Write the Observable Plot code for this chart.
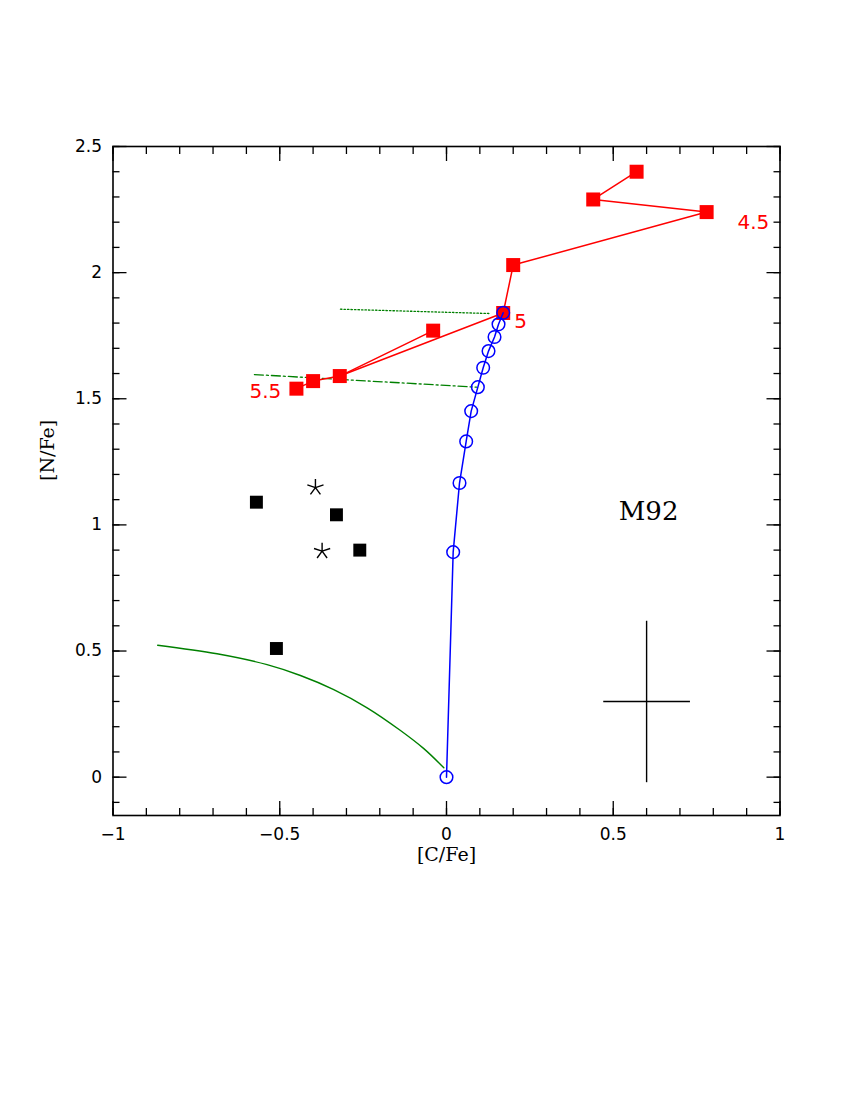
<!DOCTYPE html>
<html><head><meta charset="utf-8">
<script src="https://cdn.jsdelivr.net/npm/d3@7"></script>
<script src="https://cdn.jsdelivr.net/npm/@observablehq/plot@0.6"></script>
<style>body{margin:0;background:#fff} svg{display:block}</style>
</head><body><div id="chart"></div>
<script>
// Model sequence (red squares) [C/Fe], [N/Fe]
const modelC = [0.57, 0.44, 0.78, 0.20, 0.17, -0.04, -0.32, -0.40, -0.45];
const modelN = [2.40, 2.29, 2.24, 2.03, 1.84, 1.77, 1.59, 1.57, 1.54];
const modelPaths = [[0, 1, 2, 3, 4, 6, 7, 8], [5, 6]];
const massLabels = ["4.5", "5", "5.5"];
const massLabelC = [0.92, 0.222, -0.543];
const massLabelN = [2.20, 1.804, 1.527];

// Mixing track (blue open circles)
const mixC = [0, 0.020, 0.039, 0.059, 0.074, 0.094, 0.110, 0.126, 0.144, 0.156, 0.170];
const mixN = [0, 0.892, 1.166, 1.331, 1.451, 1.546, 1.623, 1.689, 1.745, 1.795, 1.841];

// Observed stars (black squares, asterisks)
const obsC = [-0.57, -0.33, -0.26, -0.51];
const obsN = [1.09, 1.04, 0.90, 0.51];
const starC = [-0.393, -0.373];
const starN = [1.148, 0.896];

// Green curves
const curveC = [-0.866, -0.688, -0.538, -0.438, -0.338, -0.238, -0.138, -0.068, -0.008];
const curveN = [0.523, 0.489, 0.446, 0.403, 0.347, 0.275, 0.185, 0.113, 0.037];
const dotC = [-0.318, 0.127];
const dotN = [1.855, 1.838];
const dashDotC = [-0.576, 0.090];
const dashDotN = [1.596, 1.546];

// Typical error bar
const errC = [0.60], errN = [0.30], errDC = [0.13], errDN = [0.32];

// Ticks
const xMajor = [-1, -0.5, 0, 0.5, 1];
const xMinor = d3.range(-10, 11).map(i => i / 10);
const yMajor = [0, 0.5, 1, 1.5, 2, 2.5];
const yMinor = d3.range(-1, 26).map(i => i / 10);

const model = modelC.map((c, i) => ({c, n: modelN[i]}));
const modelLine = modelPaths.flatMap((p, g) => p.map(i => ({c: modelC[i], n: modelN[i], g})));
const mix = mixC.map((c, i) => ({c, n: mixN[i]}));
const obs = obsC.map((c, i) => ({c, n: obsN[i]}));
const stars = starC.map((c, i) => ({c, n: starN[i]}));
const curve = curveC.map((c, i) => ({c, n: curveN[i]}));
const dotted = dotC.map((c, i) => ({c, n: dotN[i]}));
const dashDot = dashDotC.map((c, i) => ({c, n: dashDotN[i]}));
const err = errC.map((c, i) => ({c, n: errN[i], dc: errDC[i], dn: errDN[i]}));
const labels = massLabels.map((t, i) => ({t, c: massLabelC[i], n: massLabelN[i]}));

const star5 = {
  draw(ctx, size) {
    const r = Math.sqrt(size / Math.PI);
    for (let k = 0; k < 5; k++) {
      const a = -Math.PI / 2 + k * 2 * Math.PI / 5;
      ctx.moveTo(0, 0);
      ctx.lineTo(r * Math.cos(a), r * Math.sin(a));
    }
  }
};

const fmt = d => d < 0 ? "\u2212" + String(-d) : String(d);
const tickFont = "DejaVu Sans";
const chart = Plot.plot({
  width: 850, height: 1100,
  marginLeft: 112.5, marginRight: 70.5, marginTop: 146, marginBottom: 285,
  style: {fontFamily: tickFont, background: "white"},
  x: {domain: [-1, 1], label: null},
  y: {domain: [-0.152, 2.5], label: null},
  marks: [
    // ticks inward on all sides
    Plot.axisX(xMinor, {anchor: "bottom", tickSize: -7, fill: "none", label: null, strokeWidth: 1.3}),
    Plot.axisX(xMajor, {anchor: "bottom", tickSize: -14, fill: "none", label: null, strokeWidth: 1.3}),
    Plot.axisX(xMinor, {anchor: "top", tickSize: -7, fill: "none", label: null, strokeWidth: 1.3}),
    Plot.axisX(xMajor, {anchor: "top", tickSize: -14, fill: "none", label: null, strokeWidth: 1.3}),
    Plot.axisY(yMinor, {anchor: "left", tickSize: -7, fill: "none", label: null, strokeWidth: 1.3}),
    Plot.axisY(yMajor, {anchor: "left", tickSize: -14, fill: "none", label: null, strokeWidth: 1.3}),
    Plot.axisY(yMinor, {anchor: "right", tickSize: -7, fill: "none", label: null, strokeWidth: 1.3}),
    Plot.axisY(yMajor, {anchor: "right", tickSize: -14, fill: "none", label: null, strokeWidth: 1.3}),
    // tick labels
    Plot.axisX(xMajor, {anchor: "bottom", tickSize: 0, tickPadding: 12, label: null, fontSize: 17, letterSpacing: 1.5, fill: "black", fontFamily: tickFont, tickFormat: fmt}),
    Plot.axisY(yMajor, {anchor: "left", tickSize: 0, tickPadding: 11, label: null, fontSize: 17, letterSpacing: 1.5, fill: "black", fontFamily: tickFont, tickFormat: fmt}),
    Plot.frame({stroke: "black", strokeWidth: 1.6}),
    // axis titles
    Plot.text(["[C/Fe]"], {frameAnchor: "bottom", dy: 39, text: d => d, fontSize: 19, fontFamily: "DejaVu Serif", letterSpacing: 1, lineAnchor: "middle"}),
    Plot.text(["[N/Fe]"], {frameAnchor: "left", dx: -65, rotate: -90, text: d => d, fontSize: 19, fontFamily: "DejaVu Serif", letterSpacing: 1, lineAnchor: "middle"}),
    // green curves
    Plot.line(curve, {x: "c", y: "n", stroke: "#008000", strokeWidth: 1.4, curve: "catmull-rom"}),
    Plot.line(dotted, {x: "c", y: "n", stroke: "#008000", strokeWidth: 1.3, strokeDasharray: "1.5,2"}),
    Plot.line(dashDot, {x: "c", y: "n", stroke: "#008000", strokeWidth: 1.3, strokeDasharray: "9,3,2,3"}),
    // red model
    Plot.line(modelLine, {x: "c", y: "n", z: "g", stroke: "red", strokeWidth: 1.5}),
    Plot.dot(model, {x: "c", y: "n", symbol: "square", r: 7.9, fill: "red", stroke: "none"}),
    Plot.text(labels, {x: "c", y: "n", text: "t", fill: "red", fontSize: 20, letterSpacing: 1, fontFamily: "DejaVu Sans"}),
    // blue mixing track
    Plot.line(mix, {x: "c", y: "n", stroke: "blue", strokeWidth: 1.5}),
    Plot.dot(mix, {x: "c", y: "n", r: 6.3, stroke: "blue", strokeWidth: 1.5, fill: "none"}),
    // observations
    Plot.dot(obs, {x: "c", y: "n", symbol: "square", r: 7.3, fill: "black", stroke: "none"}),
    Plot.dot(stars, {x: "c", y: "n", symbol: star5, r: 8.5, stroke: "black", strokeWidth: 1.4, fill: "none"}),
    // error cross
    Plot.link(err, {x1: d => d.c - d.dc, x2: d => d.c + d.dc, y1: "n", y2: "n", stroke: "black", strokeWidth: 1.4}),
    Plot.link(err, {x1: "c", x2: "c", y1: d => d.n - d.dn, y2: d => d.n + d.dn, stroke: "black", strokeWidth: 1.4}),
    // cluster name
    Plot.text(["M92"], {x: () => 0.606, y: () => 1.054, text: d => d, fontSize: 26, fontFamily: "DejaVu Serif", letterSpacing: 4})
  ]
});
document.getElementById("chart").appendChild(chart);
</script>
</body></html>
